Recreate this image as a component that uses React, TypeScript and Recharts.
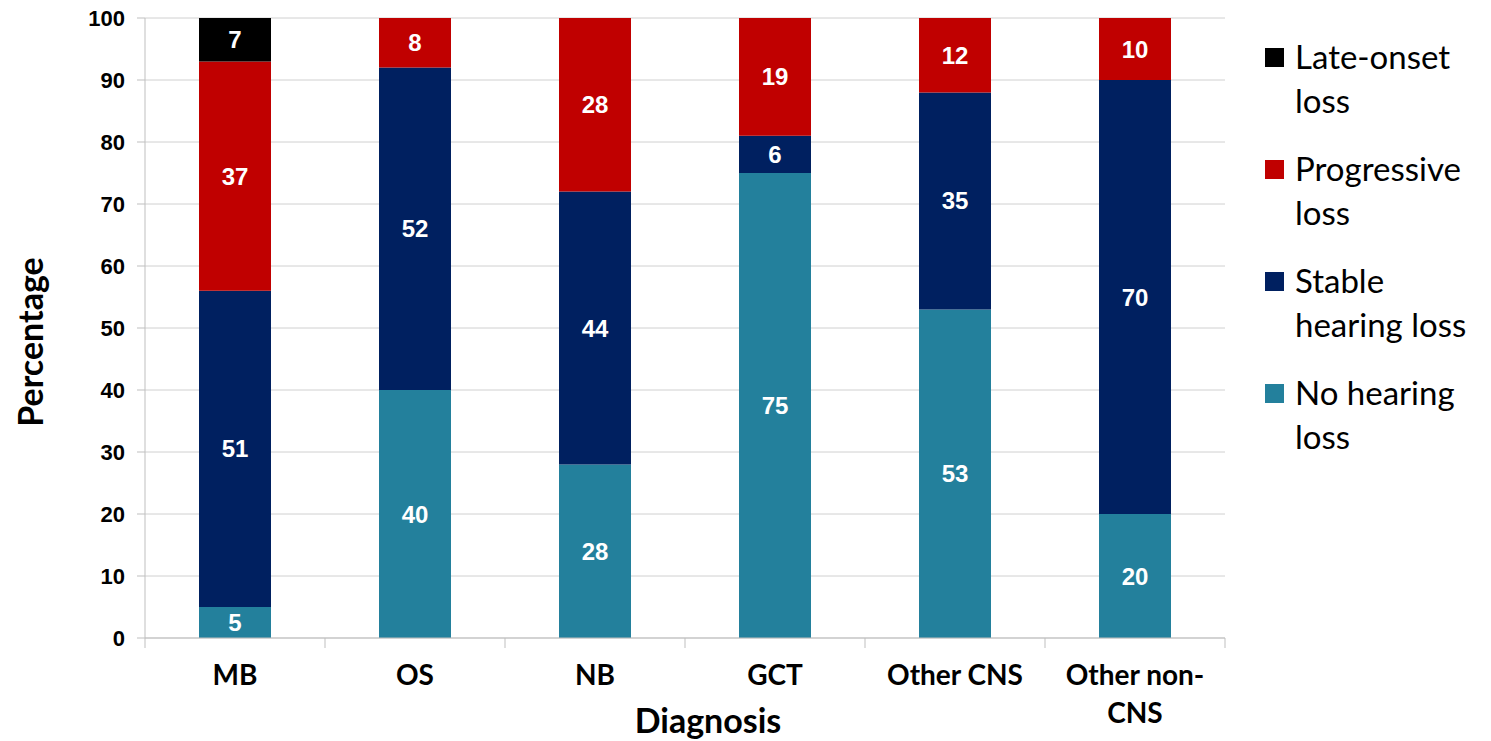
import React from 'react'
import {
  BarChart, Bar, XAxis, YAxis, CartesianGrid, LabelList, Label,
} from 'recharts'

const CATEGORIES = ['MB', 'OS', 'NB', 'GCT', 'Other CNS', 'Other non-CNS']
const TICK_LINES = [['MB'], ['OS'], ['NB'], ['GCT'], ['Other CNS'], ['Other non-', 'CNS']]
const NO_LOSS = [5, 40, 28, 75, 53, 20]
const STABLE = [51, 52, 44, 6, 35, 70]
const PROGRESSIVE = [37, 8, 28, 19, 12, 10]
const LATE_ONSET = [7, 0, 0, 0, 0, 0]
const Y_TICKS = [0, 10, 20, 30, 40, 50, 60, 70, 80, 90, 100]

const SERIES = [
  { key: 'noLoss', name: 'No hearing loss', legend: ['No hearing', 'loss'], color: '#23809c', values: NO_LOSS },
  { key: 'stable', name: 'Stable hearing loss', legend: ['Stable', 'hearing loss'], color: '#002060', values: STABLE },
  { key: 'progressive', name: 'Progressive loss', legend: ['Progressive', 'loss'], color: '#c00000', values: PROGRESSIVE },
  { key: 'late', name: 'Late-onset loss', legend: ['Late-onset', 'loss'], color: '#000000', values: LATE_ONSET },
]

const data = CATEGORIES.map((c, i) => {
  const row: Record<string, string | number> = { name: c }
  SERIES.forEach((s) => { row[s.key] = s.values[i] })
  return row
})

const W = 1491
const H = 741
const PLOT_LEFT = 145
const PLOT_RIGHT = 1225
const BAND = (PLOT_RIGHT - PLOT_LEFT) / CATEGORIES.length
const AXIS_GRAY = '#bfbfbf'

function XTick(props: any) {
  const { x, y, index } = props
  const lines = TICK_LINES[index] || [props.payload.value]
  return (
    <g>
      <line x1={x - BAND / 2} x2={x - BAND / 2} y1={y} y2={y + 10} stroke={AXIS_GRAY} />
      {index === CATEGORIES.length - 1 && (
        <line x1={x + BAND / 2} x2={x + BAND / 2} y1={y} y2={y + 10} stroke={AXIS_GRAY} />
      )}
      <text textAnchor="middle" fontFamily="Lato, sans-serif" fontWeight={700} fontSize={28} fill="#000">
        {lines.map((l: string, i: number) => (
          <tspan key={i} x={x} y={y + 47 + i * 38}>{l}</tspan>
        ))}
      </text>
    </g>
  )
}

function Legend() {
  const items = [...SERIES].reverse()
  return (
    <div style={{ position: 'absolute', left: 1265, top: 34, fontFamily: 'Lato, sans-serif', fontSize: 33, lineHeight: '44px', color: '#000' }}>
      {items.map((s) => (
        <div key={s.key} style={{ position: 'relative', paddingLeft: 30, marginBottom: 24 }}>
          <span style={{ position: 'absolute', left: 0, top: 14, width: 19, height: 19, background: s.color }} />
          {s.legend.map((l) => <div key={l}>{l}</div>)}
        </div>
      ))}
    </div>
  )
}

export default function App() {
  return (
    <div style={{ position: 'absolute', left: 0, top: 0, width: W, height: H, background: '#fff' }}>
      <BarChart
        width={W}
        height={H}
        data={data}
        margin={{ top: 18, right: W - PLOT_RIGHT, bottom: 0, left: 75 }}
        barCategoryGap="30%"
      >
        <CartesianGrid vertical={false} stroke="#d0d0d0" />
        <XAxis
          dataKey="name"
          height={103}
          interval={0}
          tickLine={false}
          tickSize={0}
          tickMargin={0}
          axisLine={{ stroke: AXIS_GRAY }}
          tick={<XTick />}
        >
          <Label
            content={() => (
              <text x={708} y={733} textAnchor="middle" fontFamily="Lato, sans-serif" fontWeight={700} fontSize={34} fill="#000">
                Diagnosis
              </text>
            )}
          />
        </XAxis>
        <YAxis
          width={70}
          domain={[0, 100]}
          ticks={Y_TICKS}
          interval={0}
          tickSize={8}
          tickMargin={12}
          tickLine={{ stroke: AXIS_GRAY }}
          axisLine={{ stroke: AXIS_GRAY }}
          tick={{ fontFamily: 'Liberation Sans, Arial, sans-serif', fontWeight: 700, fontSize: 22, fill: '#000' }}
        >
          <Label
            content={() => (
              <text x={43} y={342} textAnchor="middle" transform="rotate(-90 43 342)" fontFamily="Lato, sans-serif" fontWeight={700} fontSize={34} fill="#000">
                Percentage
              </text>
            )}
          />
        </YAxis>
        {SERIES.map((s) => (
          <Bar key={s.key} dataKey={s.key} name={s.name} stackId="a" fill={s.color} isAnimationActive={false}>
            <LabelList
              dataKey={s.key}
              position="center"
              formatter={(v: any) => (v ? v : '')}
              fill="#fff"
              style={{ fontFamily: 'Liberation Sans, Arial, sans-serif', fontWeight: 700, fontSize: 24 }}
            />
          </Bar>
        ))}
      </BarChart>
      <Legend />
    </div>
  )
}
